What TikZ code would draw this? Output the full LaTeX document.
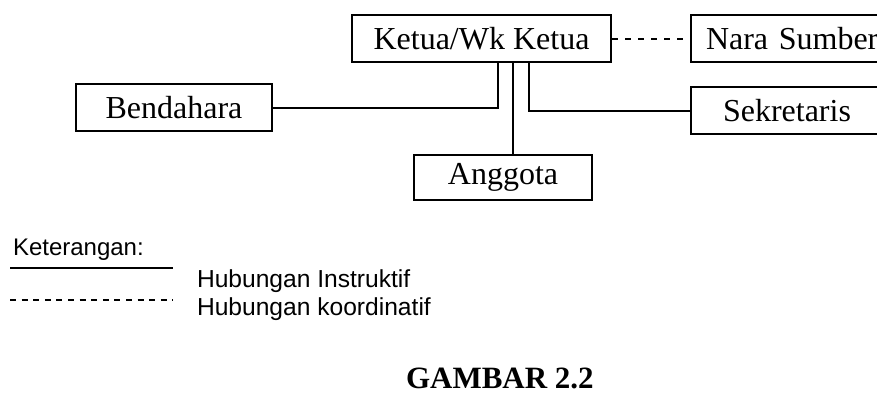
\documentclass[tikz,border=0pt]{standalone}
\usepackage{fontspec}
\setmainfont{Liberation Serif}
\newfontfamily\legendfont{Liberation Sans}
\usetikzlibrary{positioning}

\begin{document}
\begin{tikzpicture}[x=0.5pt, y=-0.5pt, line width=1pt, on grid,
    unit/.style={draw, minimum height=23.5pt, font=\fontsize{16}{19}\selectfont},
    cutunit/.style={unit, minimum width=105pt, text width=90pt, align=left},
    legend/.style={font=\legendfont\fontsize{12.3}{14}\selectfont, inner sep=0pt, anchor=base west},
    keyline/.style={line width=1.2pt}]
    \useasboundingbox (0,0) rectangle (877,393);

    \node[unit, minimum width=129.5pt] (ketua) at (481.5,38.5) {Ketua/Wk Ketua};
    \node[unit, minimum width=98pt] (bendahara) [below left=34.5pt and 153.75pt of ketua] {Bendahara};
    \node[unit, minimum width=89pt, minimum height=22.5pt] (anggota) [below right=69.5pt and 10.75pt of ketua] {Anggota};
    \node[cutunit] (nara) [right=157.25pt of ketua] {Nara Sumber};
    \node[cutunit] (sekretaris) [below=36pt of nara] {\hspace*{8.5pt}Sekretaris};

    \draw (bendahara.east) -| ([xshift=8.25pt]ketua.south);
    \draw ([xshift=15.75pt]ketua.south) -- ([xshift=5pt]anggota.north);
    \draw ([xshift=23.75pt]ketua.south) |- (sekretaris.west);
    \draw[dash pattern=on 3pt off 3.5pt] (ketua.east) -- (ketua.east -| nara.west);

    % keterangan
    \node[legend, font=\legendfont\fontsize{12}{14}\selectfont] (ket) at (12,255) {Keterangan:};
    \coordinate (solid_0) at (10,268);
    \coordinate (solid_1) at (173,268);
    \coordinate (dash_0) at (10,300);
    \coordinate (dash_1) at (173,300);
    \draw[keyline] (solid_0) -- (solid_1);
    \draw[keyline, dash pattern=on 3pt off 2.8pt] (dash_0) -- (dash_1);
    \node[legend] (instruktif) at (196,287) {Hubungan Instruktif};
    \node[legend] (koordinatif) at (196,315) {Hubungan koordinatif};

    \node[inner sep=0pt, anchor=base west, font=\bfseries\fontsize{15.5}{18}\selectfont] (gambar) at (405,388) {GAMBAR 2.2};
\end{tikzpicture}
\end{document}
